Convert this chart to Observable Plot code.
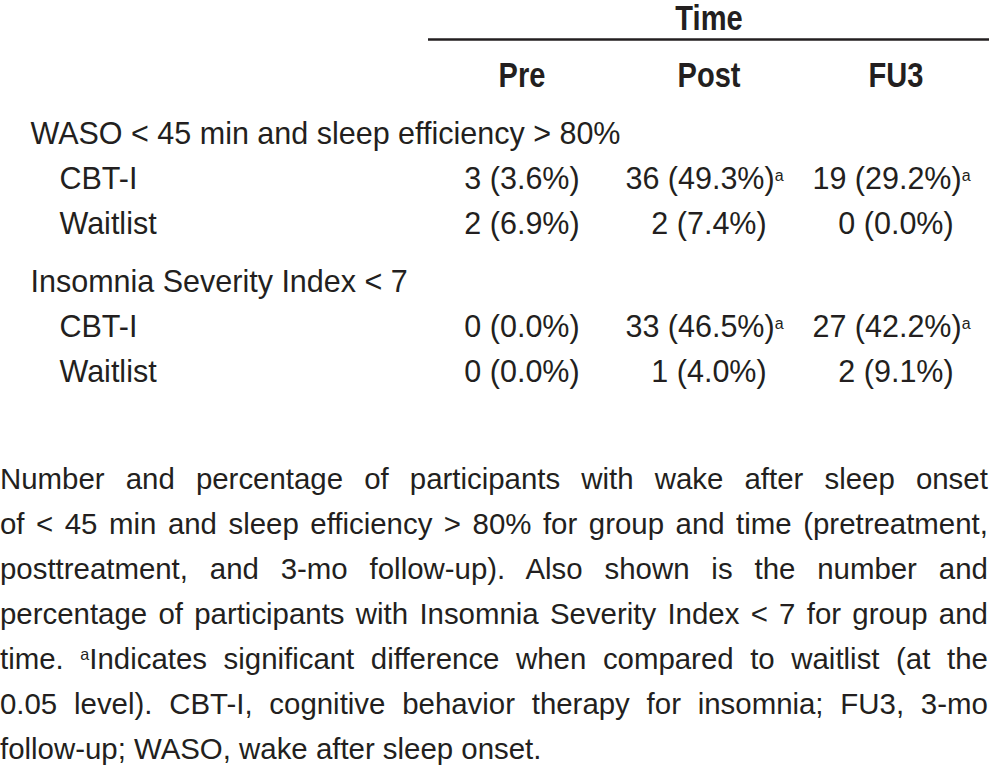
<!DOCTYPE html>
<html>
<head>
<meta charset="utf-8">
<script src="https://cdn.jsdelivr.net/npm/d3@7"></script>
<script src="https://cdn.jsdelivr.net/npm/@observablehq/plot@0.6"></script>
<style>
  html, body { margin: 0; padding: 0; background: #fff; }
  #chart svg { display: block; }
  #caption {
    margin-top: 56px;
    width: 1008px;
    transform: scaleX(0.98);
    transform-origin: 0 0;
    font-family: "Liberation Sans", Arial, sans-serif;
    font-size: 30px;
    line-height: 45px;
    color: #231f20;
  }
  #caption div { text-align: justify; text-align-last: justify; }
  #caption div.last { text-align-last: left; }
  #caption sup { font-size: 0.55em; vertical-align: 0.55em; line-height: 0; }
</style>
</head>
<body>
<div id="chart"></div>
<div id="caption"></div>
<script>
// ---------- data ----------
const spanLabel = "Time";
const timepoints = ["Pre", "Post", "FU3"];
const outcomes = ["WASO < 45 min and sleep efficiency > 80%", "Insomnia Severity Index < 7"];
const groups = ["CBT-I", "Waitlist"];

const wasoCbtN = [3, 36, 19];
const wasoCbtPct = [3.6, 49.3, 29.2];
const wasoCbtSig = [false, true, true];
const wasoWaitN = [2, 2, 0];
const wasoWaitPct = [6.9, 7.4, 0.0];
const wasoWaitSig = [false, false, false];

const isiCbtN = [0, 33, 27];
const isiCbtPct = [0.0, 46.5, 42.2];
const isiCbtSig = [false, true, true];
const isiWaitN = [0, 1, 2];
const isiWaitPct = [0.0, 4.0, 9.1];
const isiWaitSig = [false, false, false];

const captionLines = [
  "Number and percentage of participants with wake after sleep onset",
  "of < 45 min and sleep efficiency > 80% for group and time (pretreatment,",
  "posttreatment, and 3-mo follow-up). Also shown is the number and",
  "percentage of participants with Insomnia Severity Index < 7 for group and",
  "time. \u1d43Indicates significant difference when compared to waitlist (at the",
  "0.05 level). CBT-I, cognitive behavior therapy for insomnia; FU3, 3-mo",
  "follow-up; WASO, wake after sleep onset."
];

// ---------- table assembly ----------
const SUP = "\u1d43";
const cellData = [
  [[wasoCbtN, wasoCbtPct, wasoCbtSig], [wasoWaitN, wasoWaitPct, wasoWaitSig]],
  [[isiCbtN, isiCbtPct, isiCbtSig], [isiWaitN, isiWaitPct, isiWaitSig]]
];

// vertical layout in "line units": a new block adds an extra gap
const BLOCK = 1.3;
let u = 0;
const spanRow = {label: spanLabel, u: 0};
u += BLOCK;
const headRows = timepoints.map(t => ({time: t, u}));
const groupRows = [];
const itemRows = [];
const cells = [];
outcomes.forEach((o, oi) => {
  u += BLOCK;
  groupRows.push({label: o, u});
  groups.forEach((g, gi) => {
    u += 1;
    itemRows.push({label: g, u});
    const [ns, ps, ss] = cellData[oi][gi];
    timepoints.forEach((t, ti) => {
      cells.push({time: t, u, text: `${ns[ti]} (${ps[ti].toFixed(1)}%)` + (ss[ti] ? SUP : "")});
    });
  });
});
const lastU = u;

const ink = "#231f20";
const svg = Plot.plot({
  width: 990,
  height: 400,
  margin: 0,
  x: {type: "band", domain: timepoints, range: [427, 989], padding: 0, axis: null},
  y: {type: "linear", domain: [0, lastU], range: [16.5, 16.5 + 45 * lastU], axis: null},
  style: {fontFamily: "'Liberation Sans', Arial, sans-serif", color: ink, background: "#fff"},
  marks: [
    Plot.text([spanRow], {x: () => timepoints[1], y: "u", text: "label", dy: 1.5, fontSize: 35, fontWeight: "bold", fill: ink}),
    Plot.tickY(timepoints, {x: d => d, y: () => 0.5, stroke: ink, strokeWidth: 2.5}),
    Plot.text(headRows, {x: "time", y: "u", text: "time", fontSize: 35, fontWeight: "bold", fill: ink}),
    Plot.text(groupRows, {y: "u", text: "label", frameAnchor: "left", textAnchor: "start", dx: 30, fontSize: 30.5, fill: ink}),
    Plot.text(itemRows, {y: "u", text: "label", frameAnchor: "left", textAnchor: "start", dx: 59, fontSize: 30.5, fill: ink}),
    Plot.text(cells, {x: "time", y: "u", text: "text", fontSize: 30.5, fill: ink})
  ]
});
document.getElementById("chart").appendChild(svg);

// condensed bold headers
svg.querySelectorAll('g[font-weight="bold"] text').forEach(t => {
  const w = t.getComputedTextLength();
  t.setAttribute("textLength", (w * 0.83).toFixed(1));
  t.setAttribute("lengthAdjust", "spacingAndGlyphs");
});
// superscript markers
svg.querySelectorAll("text").forEach(t => {
  const s = t.textContent;
  if (s.endsWith(SUP)) {
    t.textContent = s.slice(0, -1);
    const ts = document.createElementNS("http://www.w3.org/2000/svg", "tspan");
    ts.setAttribute("font-size", "16");
    ts.setAttribute("dy", "-8");
    ts.textContent = "a";
    t.appendChild(ts);
    const w = ts.getComputedTextLength();
    t.setAttribute("dx", (-w / 2).toFixed(1));
  }
});

// caption
const cap = document.getElementById("caption");
captionLines.forEach((line, i) => {
  const div = document.createElement("div");
  if (i === captionLines.length - 1) div.className = "last";
  line.split(SUP).forEach((part, j) => {
    if (j > 0) {
      const sup = document.createElement("sup");
      sup.textContent = "a";
      div.appendChild(sup);
    }
    div.appendChild(document.createTextNode(part));
  });
  cap.appendChild(div);
});
</script>
</body>
</html>
